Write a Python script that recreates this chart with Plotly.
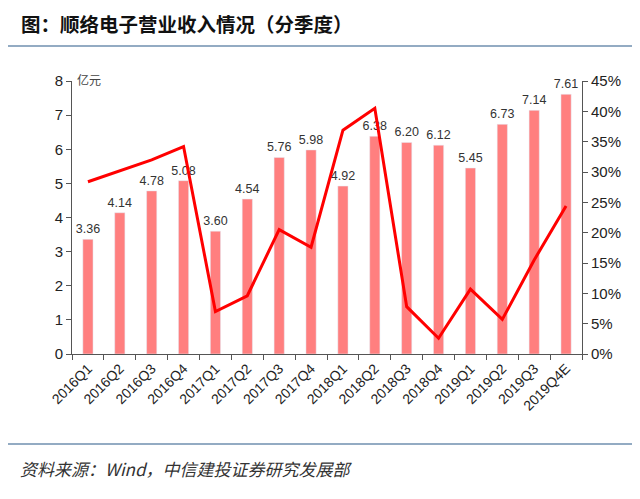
import plotly.graph_objects as go

categories = ["2016Q1","2016Q2","2016Q3","2016Q4","2017Q1","2017Q2","2017Q3","2017Q4",
              "2018Q1","2018Q2","2018Q3","2018Q4","2019Q1","2019Q2","2019Q3","2019Q4E"]
revenue = [3.36,4.14,4.78,5.08,3.60,4.54,5.76,5.98,4.92,6.38,6.20,6.12,5.45,6.73,7.14,7.61]
growth = [28.4,30.2,32.0,34.2,7.0,9.6,20.5,17.6,36.9,40.5,7.8,2.6,10.7,5.7,15.5,24.4]

# page has ~8px body margin; figure coords = reference coords - 8
W, H = 632, 491
L, T, R, B = 64, 73, 574, 346
PW, PH = R - L, B - T

def px(x):
    return (x - 8 - L) / PW

def py(y):
    return (B - (y - 8)) / PH

fig = go.Figure()
fig.add_trace(go.Bar(x=categories, y=revenue, marker_color="#FF7F7F", width=0.32,
                     text=[f"{v:.2f}" for v in revenue], textposition="outside",
                     constraintext="none",
                     textfont=dict(size=12.5, color="#333333", family="Liberation Sans"),
                     cliponaxis=False))
fig.add_trace(go.Scatter(x=categories, y=growth, yaxis="y2", mode="lines",
                         line=dict(color="#FF0000", width=3)))

axis_common = dict(showline=True, linecolor="#555555", linewidth=1, ticks="outside",
                   ticklen=5, tickcolor="#555555", showgrid=False, zeroline=False,
                   automargin=False,
                   tickfont=dict(size=15, color="#222222", family="Liberation Sans"))

fig.update_layout(
    width=W, height=H, showlegend=False,
    paper_bgcolor="white", plot_bgcolor="white",
    margin=dict(l=L, r=W - R, t=T, b=H - B),
    xaxis=dict(showline=True, linecolor="#555555", ticks="outside", tickson="boundaries",
               ticklen=5, tickcolor="#555555", tickangle=-45, automargin=False,
               tickfont=dict(size=14, color="#222222", family="Liberation Sans")),
    yaxis=dict(range=[0, 8], dtick=1, **axis_common),
    yaxis2=dict(range=[0, 45], dtick=5, overlaying="y", side="right", ticksuffix="%", **axis_common),
    bargap=0.68,
    shapes=[
        dict(type="line", xref="paper", yref="paper", x0=px(0), x1=px(648),
             y0=py(46), y1=py(46), line=dict(color="#6F8FAF", width=1.5)),
        dict(type="line", xref="paper", yref="paper", x0=px(7), x1=px(648),
             y0=py(444), y1=py(444), line=dict(color="#6F8FAF", width=1.5)),
    ],
    annotations=[
        dict(text="<b>图：顺络电子营业收入情况（分季度）</b>", xref="paper", yref="paper",
             x=px(19), y=py(23), xanchor="left", yanchor="middle", showarrow=False,
             font=dict(size=19.5, color="#111111", family="Noto Sans CJK SC")),
        dict(text="亿元", xref="paper", yref="paper", x=px(75), y=py(79),
             xanchor="left", yanchor="middle", showarrow=False,
             font=dict(size=12, color="#444444", family="Noto Sans CJK SC")),
        dict(text="<i>资料来源：Wind，中信建投证券研究发展部</i>", xref="paper", yref="paper",
             x=px(18), y=py(468), xanchor="left", yanchor="middle", showarrow=False,
             font=dict(size=17, color="#333333", family="Noto Sans CJK SC")),
    ],
)

fig.write_html("out.html")
